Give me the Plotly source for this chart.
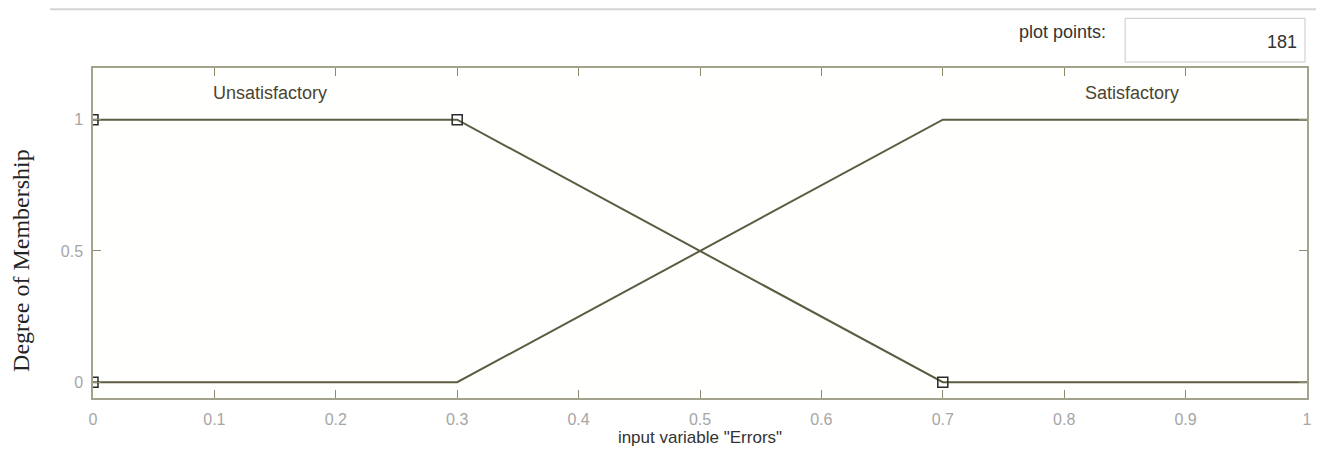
import plotly.graph_objects as go

# Membership functions (trapezoids)
unsat_x = [0.0, 0.3, 0.7, 1.0]
unsat_y = [1.0, 1.0, 0.0, 0.0]
sat_x = [0.0, 0.3, 0.7, 1.0]
sat_y = [0.0, 0.0, 1.0, 1.0]
# vertex markers of selected MF
vert_x = [0.0, 0.0, 0.3, 0.7]
vert_y = [0.0, 1.0, 1.0, 0.0]
mf_names = ["Unsatisfactory", "Satisfactory"]
name_x = [0.146, 0.856]
name_y = [1.10, 1.10]
x_ticks = [0, 0.1, 0.2, 0.3, 0.4, 0.5, 0.6, 0.7, 0.8, 0.9, 1]
y_ticks = [0, 0.5, 1]
plot_points = "181"

OFF = 8  # page body margin
W, H = 1324 - OFF, 454 - OFF
L, R, T, B = 93 - OFF, 16, 68 - OFF, 54
pw, ph = W - L - R, H - T - B

def px(xp):  # page pixel -> paper
    return (xp - OFF - L) / pw

def py(yp):
    return (H - B - (yp - OFF)) / ph

line_col = "#5c5c40"
frame_col = "#a3a38c"
sans = "Liberation Sans, Arial"

fig = go.Figure()
fig.add_trace(go.Scatter(x=unsat_x, y=unsat_y, mode="lines",
                         line=dict(color=line_col, width=2), hoverinfo="skip"))
fig.add_trace(go.Scatter(x=sat_x, y=sat_y, mode="lines",
                         line=dict(color=line_col, width=2), hoverinfo="skip"))
fig.add_trace(go.Scatter(x=vert_x, y=vert_y, mode="markers",
                         marker=dict(symbol="square-open", size=10,
                                     color="#2a2a2a", line=dict(width=1.5)),
                         hoverinfo="skip"))

for n, xx, yy in zip(mf_names, name_x, name_y):
    fig.add_annotation(x=xx, y=yy, text=n, showarrow=False,
                       font=dict(family=sans, size=18, color="#4a4430"))

axis_common = dict(showgrid=False, zeroline=False, showline=True, linecolor=frame_col,
                   linewidth=1.5, mirror="ticks", ticks="inside", ticklen=8,
                   tickcolor="#8c8c70", tickwidth=1,
                   tickfont=dict(family=sans, size=16, color="#a6a6a6"))

fig.update_xaxes(range=[0, 1], tickvals=x_ticks,
                 ticktext=[("%g" % v) for v in x_ticks], ticklabelstandoff=6,
                 title=dict(text='input variable "Errors"', standoff=2,
                            font=dict(family=sans, size=17, color="#333333")),
                 **axis_common)
fig.update_yaxes(range=[-0.06, 1.197], tickvals=y_ticks, ticklabelstandoff=5,
                 ticktext=[("%g" % v) for v in y_ticks], **axis_common)

# Y axis title (serif)
fig.add_annotation(xref="paper", yref="paper", x=px(21), y=py(262), text="Degree of Membership",
                   textangle=-90, showarrow=False, xanchor="center", yanchor="middle",
                   font=dict(family="Liberation Serif, Times New Roman", size=24, color="#222222"))

# top separator line
fig.add_shape(type="line", xref="paper", yref="paper", x0=px(50), x1=px(1324),
              y0=py(9), y1=py(9), line=dict(color="#d4d4d4", width=2))
# plot points box
fig.add_shape(type="rect", xref="paper", yref="paper", x0=px(1126), x1=px(1306),
              y0=py(62), y1=py(18), line=dict(color="#c8c8c8", width=1), fillcolor="white")
fig.add_annotation(xref="paper", yref="paper", x=px(1300), y=py(42), text=plot_points,
                   showarrow=False, xanchor="right", yanchor="middle",
                   font=dict(family=sans, size=18, color="#333333"))
fig.add_annotation(xref="paper", yref="paper", x=px(1109), y=py(32), text="plot points:",
                   showarrow=False, xanchor="right", yanchor="middle",
                   font=dict(family=sans, size=18, color="#333333"))

fig.update_layout(width=W, height=H, margin=dict(l=L, r=R, t=T, b=B),
                  paper_bgcolor="white", plot_bgcolor="#fffffe", showlegend=False)

fig.write_html("out.html")
